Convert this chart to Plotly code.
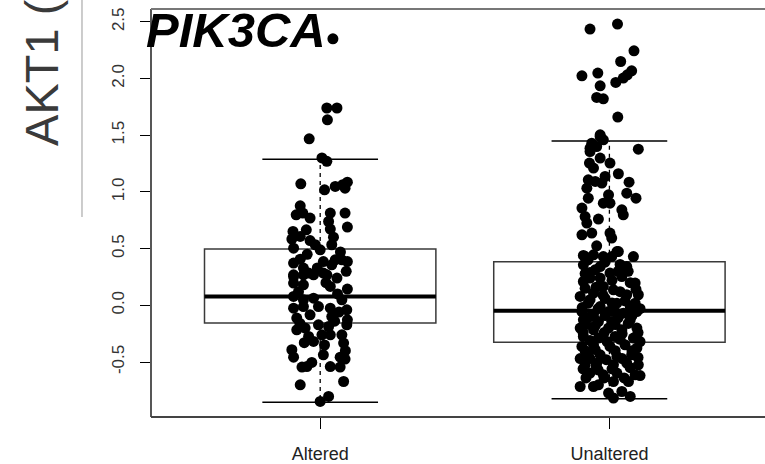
import plotly.graph_objects as go

categories = ["Altered", "Unaltered"]
positions = [1, 2]

# box statistics
q1 = [-0.157, -0.325]
median = [0.078, -0.049]
q3 = [0.497, 0.384]
whisker_low = [-0.854, -0.825]
whisker_high = [1.289, 1.448]

y_ticks = [-0.5, 0.0, 0.5, 1.0, 1.5, 2.0, 2.5]
y_tick_labels = ["-0.5", "0.0", "0.5", "1.0", "1.5", "2.0", "2.5"]

# jittered points: (horizontal jitter, value)
altered_jitter = [0.044, 0.023, 0.058, 0.025, -0.038, 0.006, 0.023, -0.067, 0.015, 0.052,
                  0.078, 0.094, 0.086, -0.069, -0.083, -0.060, -0.035, 0.035, 0.086, 0.029,
                  0.094, 0.035, -0.094, -0.048, -0.069, -0.098, -0.035, 0.046, 0.040, -0.017,
                  0.0, -0.092, -0.069, 0.011, 0.052, 0.075, 0.094, -0.092, -0.058, 0.040,
                  -0.092, -0.023, 0.011, -0.058, -0.092, -0.040, 0.023, 0.058, -0.092, -0.058,
                  0.035, 0.094, -0.092, -0.058, -0.023, 0.075, -0.092, -0.058, -0.006, 0.035,
                  0.092, -0.081, -0.035, 0.040, 0.094, -0.081, -0.052, -0.006, 0.029, 0.092,
                  -0.040, 0.006, 0.035, 0.075, -0.023, 0.081, -0.098, -0.092, 0.011, 0.069,
                  0.086, -0.029, -0.063, -0.046, 0.035, 0.069, 0.081, -0.069, 0.029, 0.0,
                  -0.075, 0.060, 0.020, -0.010, 0.090, 0.065, -0.070, 0.050, 0.015, -0.055,
                  0.087, -0.045, 0.070]
altered_values = [2.35, 1.74, 1.74, 1.636, 1.468, 1.30, 1.27, 1.071, 1.018, 1.048,
                  1.063, 1.086, 1.033, 0.877, 0.798, 0.813, 0.769, 0.813, 0.813, 0.739,
                  0.690, 0.672, 0.651, 0.666, 0.607, 0.584, 0.571, 0.601, 0.534, 0.534,
                  0.489, 0.504, 0.407, 0.386, 0.401, 0.401, 0.386, 0.372, 0.328, 0.357,
                  0.269, 0.269, 0.284, 0.269, 0.254, 0.284, 0.269, 0.240, 0.196, 0.181,
                  0.166, 0.143, 0.078, 0.048, 0.063, 0.048, -0.025, -0.011, -0.011, -0.025,
                  -0.040, -0.113, -0.084, -0.099, -0.128, -0.216, -0.201, -0.172, -0.187, -0.172,
                  -0.275, -0.260, -0.260, -0.260, -0.319, -0.333, -0.392, -0.457, -0.437, -0.457,
                  -0.474, -0.504, -0.545, -0.540, -0.540, -0.545, -0.672, -0.701, -0.804, -0.848,
                  0.12, 0.10, 0.20, 0.33, 0.30, -0.06, -0.16, -0.14, -0.35, -0.33,
                  -0.40, 0.45, 0.47]

unaltered_jitter = [-0.067, 0.028, 0.085, 0.039, 0.077, 0.062, 0.048, 0.022, -0.095, -0.040,
                    -0.032, -0.044, -0.021, 0.029, 0.100, -0.032, -0.044, -0.067, -0.021, -0.061,
                    -0.032, -0.067, -0.032, -0.069, 0.002, -0.055, 0.031, -0.015, -0.073, -0.049,
                    -0.078, -0.026, 0.068, 0.060, 0.092, -0.073, -0.003, -0.021, 0.002, -0.095,
                    0.043, 0.048, -0.084, -0.038, -0.078, -0.095, -0.061, 0.002, 0.008, -0.044,
                    0.026, -0.084, -0.055, -0.021, 0.083, -0.090, 0.008, 0.031, -0.090, -0.049,
                    -0.032, 0.060, 0.002, -0.090, -0.067, 0.043, 0.089, -0.021, 0.014, -0.101,
                    -0.055, 0.060, 0.100, -0.073, -0.032, 0.026, 0.089, -0.095, -0.055, -0.003,
                    0.048, 0.095, -0.090, -0.038, 0.008, 0.072, -0.101, -0.055, -0.003, 0.043,
                    0.095, -0.090, -0.038, 0.020, 0.083, -0.095, -0.055, 0.002, 0.054, 0.095,
                    -0.078, -0.032, 0.026, 0.077, -0.084, -0.044, 0.014, 0.060, 0.100, -0.067,
                    -0.021, 0.026, 0.089, 0.066, -0.101, -0.055, -0.038, 0.014, 0.043, 0.014,
                    0.072, -0.003,
                    -0.074, -0.015, 0.037, 0.065, -0.067, -0.032, 0.009, 0.072, -0.084, -0.046,
                    0.037, 0.092, -0.067, -0.015, 0.009, 0.054, -0.094, -0.039, 0.072, 0.106,
                    -0.067, -0.015, 0.030, 0.078, -0.081, -0.049, 0.020, 0.065, -0.091, -0.018,
                    0.044, 0.099, -0.067, -0.008, 0.037, 0.106, -0.084, -0.049, 0.020, 0.078,
                    -0.067, -0.011, 0.044, 0.099, -0.091, -0.039, 0.009, 0.072, -0.081, -0.018,
                    0.051, 0.106, -0.046, -0.101, -0.084, 0.030, -0.022, 0.020]
unaltered_values = [2.436, 2.480, 2.244, 2.150, 2.068, 2.033, 2.004, 1.965, 2.024, 2.048,
                    1.936, 1.833, 1.821, 1.660, 1.377, 1.489, 1.400, 1.386, 1.459, 1.430,
                    1.503, 1.356, 1.298, 1.254, 1.254, 1.210, 1.160, 1.136, 1.107, 1.092,
                    1.033, 1.078, 1.086, 0.989, 0.945, 0.945, 0.974, 0.901, 0.901, 0.857,
                    0.842, 0.798, 0.783, 0.760, 0.725, 0.622, 0.637, 0.637, 0.593, 0.525,
                    0.474, 0.430, 0.445, 0.430, 0.430, 0.440, 0.430, 0.474, 0.357, 0.313,
                    0.342, 0.342, 0.284, 0.210, 0.240, 0.254, 0.196, 0.166, 0.137, 0.078,
                    0.108, 0.093, 0.093, 0.019, -0.011, 0.019, 0.019, -0.055, -0.084, -0.055,
                    -0.069, -0.055, -0.128, -0.143, -0.143, -0.128, -0.201, -0.216, -0.201, -0.216,
                    -0.201, -0.275, -0.289, -0.275, -0.289, -0.363, -0.348, -0.363, -0.348, -0.377,
                    -0.437, -0.437, -0.451, -0.437, -0.525, -0.510, -0.525, -0.510, -0.525, -0.598,
                    -0.613, -0.598, -0.613, -0.672, -0.716, -0.716, -0.701, -0.672, -0.760, -0.818,
                    -0.804, -0.774,
                    0.40, 0.38, 0.36, 0.30, 0.29, 0.24, 0.22, 0.20, 0.15, 0.16,
                    0.12, 0.14, 0.05, 0.06, 0.02, 0.04, -0.02, -0.03, -0.01, -0.03,
                    -0.10, -0.09, -0.11, -0.09, -0.17, -0.18, -0.17, -0.16, -0.24, -0.24,
                    -0.25, -0.24, -0.31, -0.32, -0.30, -0.32, -0.40, -0.39, -0.40, -0.40,
                    -0.47, -0.48, -0.47, -0.46, -0.56, -0.57, -0.56, -0.55, -0.64, -0.64,
                    -0.64, -0.62, -0.53, -0.47, 0.28, 0.30, 0.09, -0.06]

fig = go.Figure()

# boxes (rectangles only; whiskers drawn separately as dashed lines)
fig.add_trace(go.Box(
    x=positions, q1=q1, median=median, q3=q3,
    lowerfence=q1, upperfence=q3,
    width=0.8, whiskerwidth=0,
    fillcolor="white", line=dict(color="#3a3a3a", width=1.5),
    boxpoints=False, hoverinfo="skip", showlegend=False,
))

# whiskers, caps and medians
for i, p in enumerate(positions):
    fig.add_trace(go.Scatter(x=[p, p], y=[q3[i], whisker_high[i]], mode="lines",
                             line=dict(color="black", width=1.3, dash="4px,4px"),
                             showlegend=False, hoverinfo="skip"))
    fig.add_trace(go.Scatter(x=[p, p], y=[q1[i], whisker_low[i]], mode="lines",
                             line=dict(color="black", width=1.3, dash="4px,4px"),
                             showlegend=False, hoverinfo="skip"))
    for w in (whisker_low[i], whisker_high[i]):
        fig.add_trace(go.Scatter(x=[p - 0.2, p + 0.2], y=[w, w], mode="lines",
                                 line=dict(color="black", width=1.5),
                                 showlegend=False, hoverinfo="skip"))
    fig.add_trace(go.Scatter(x=[p - 0.4, p + 0.4], y=[median[i], median[i]], mode="lines",
                             line=dict(color="black", width=4),
                             showlegend=False, hoverinfo="skip"))

# jittered points
fig.add_trace(go.Scatter(
    x=[positions[0] + j for j in altered_jitter], y=altered_values,
    mode="markers", marker=dict(color="black", size=11, line=dict(width=0)),
    showlegend=False, hoverinfo="skip"))
fig.add_trace(go.Scatter(
    x=[positions[1] + j for j in unaltered_jitter], y=unaltered_values,
    mode="markers", marker=dict(color="black", size=11, line=dict(width=0)),
    showlegend=False, hoverinfo="skip"))

font_family = "Liberation Sans, Arial, sans-serif"

fig.update_layout(
    width=765, height=464,
    margin=dict(l=151, r=0, t=9, b=47),
    paper_bgcolor="white", plot_bgcolor="white",
    font=dict(family=font_family, color="#222"),
    xaxis=dict(range=[0.415, 2.538], tickvals=positions, ticktext=categories,
               ticks="outside", ticklen=11, tickwidth=1.3, tickcolor="black",
               ticklabelstandoff=9,
               tickfont=dict(size=18, color="#222"), showgrid=False, zeroline=False,
               showline=False, fixedrange=True),
    yaxis=dict(range=[-0.985, 2.613], tickvals=y_ticks, ticktext=y_tick_labels,
               ticks="outside", ticklen=10, tickwidth=1.3, tickcolor="black",
               ticklabelstandoff=9,
               tickangle=-90, tickfont=dict(size=17, color="#333"),
               showgrid=False, zeroline=False, showline=False, fixedrange=True),
    shapes=[
        dict(type="line", xref="paper", yref="paper", x0=0, x1=0, y0=0, y1=1,
             line=dict(color="#444", width=1.8)),
        dict(type="line", xref="paper", yref="paper", x0=0, x1=1, y0=1, y1=1,
             line=dict(color="#777", width=2)),
        dict(type="line", xref="paper", yref="paper", x0=0, x1=1, y0=0, y1=0,
             line=dict(color="#444", width=1.8)),
        dict(type="line", xref="paper", yref="paper", x0=-0.1124, x1=-0.1124,
             y0=0.49, y1=1.03, line=dict(color="#bbbbbb", width=1.5)),
    ],
    annotations=[
        dict(text="<b><i>PIK3CA</i></b>", xref="paper", yref="paper",
             x=-0.012, y=1.02, xanchor="left", yanchor="top", showarrow=False,
             font=dict(size=49, color="black", family=font_family)),
        dict(text="AKT1 (", xref="paper", yref="paper", textangle=-90,
             x=-0.178, y=0.66, xanchor="center", yanchor="bottom", showarrow=False,
             font=dict(size=47, color="#3a3a3a", family=font_family)),
    ],
)

fig.write_html("out.html")
